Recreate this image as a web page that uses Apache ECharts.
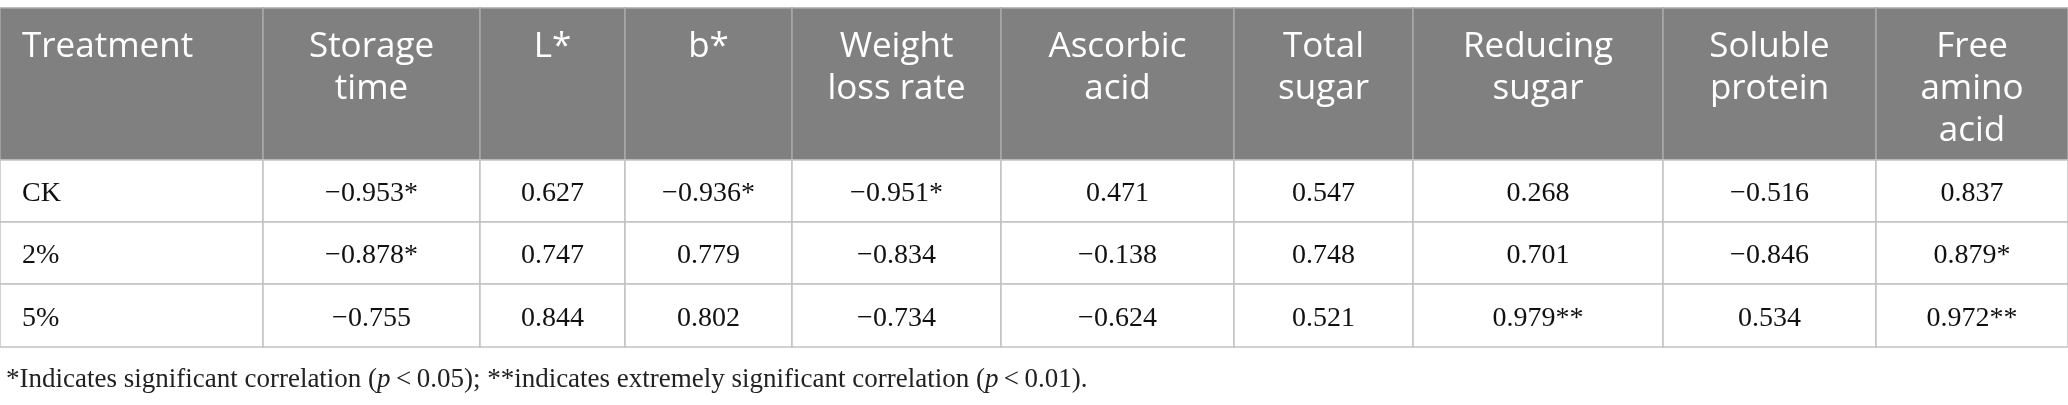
<!DOCTYPE html>
<html>
<head>
<meta charset="utf-8">
<script src="https://cdn.jsdelivr.net/npm/echarts@6/dist/echarts.min.js"></script>
<style>
  html, body { margin: 0; padding: 0; background: #fff; }
  #main { width: 2068px; height: 405px; }
</style>
</head>
<body>
<div id="main"></div>
<script>
var headers = ['Treatment', 'Storage\ntime', 'L*', 'b*', 'Weight\nloss rate', 'Ascorbic\nacid',
  'Total\nsugar', 'Reducing\nsugar', 'Soluble\nprotein', 'Free\namino\nacid'];
var treatments = ['CK', '2%', '5%'];

var ckValues = [-0.953, 0.627, -0.936, -0.951, 0.471, 0.547, 0.268, -0.516, 0.837];
var ckSig = ['*', '', '*', '*', '', '', '', '', ''];
var p2Values = [-0.878, 0.747, 0.779, -0.834, -0.138, 0.748, 0.701, -0.846, 0.879];
var p2Sig = ['*', '', '', '', '', '', '', '', '*'];
var p5Values = [-0.755, 0.844, 0.802, -0.734, -0.624, 0.521, 0.979, 0.534, 0.972];
var p5Sig = ['', '', '', '', '', '', '**', '', '**'];

// layout (pixels along the hidden axes)
var colWidths = [263, 217, 145, 167, 209, 233, 179, 250, 213, 192];
var rowHeights = [152, 62, 62, 63];
var tableTop = 8;

var colEdges = [0];
colWidths.forEach(function (w, i) { colEdges.push(colEdges[i] + w); });
var rowEdges = [tableTop];
rowHeights.forEach(function (h, i) { rowEdges.push(rowEdges[i] + h); });

function fmt(v, sig) {
  return (v < 0 ? '\u2212' : '') + Math.abs(v).toFixed(3) + sig;
}

var rows = [[ckValues, ckSig], [p2Values, p2Sig], [p5Values, p5Sig]];
var cells = [];
headers.forEach(function (h, c) { cells.push([c, 0, h]); });
rows.forEach(function (r, i) {
  cells.push([0, i + 1, treatments[i]]);
  r[0].forEach(function (v, j) { cells.push([j + 1, i + 1, fmt(v, r[1][j])]); });
});

var chart = echarts.init(document.getElementById('main'), null, { renderer: 'canvas' });

function renderCell(params, api) {
  var c = api.value(0), r = api.value(1);
  var text = cells[params.dataIndex][2];
  var p0 = api.coord([colEdges[c], rowEdges[r]]);
  var p1 = api.coord([colEdges[c + 1], rowEdges[r + 1]]);
  var isHead = r === 0;
  var left = c === 0;
  var tx = left ? p0[0] + 22 : (p0[0] + p1[0]) / 2;
  var ty = isHead ? p0[1] + 18 : (p0[1] + p1[1]) / 2 + 3;
  return {
    type: 'group',
    children: [{
      type: 'rect',
      shape: { x: p0[0], y: p0[1], width: p1[0] - p0[0], height: p1[1] - p0[1] },
      style: {
        fill: isHead ? '#808080' : '#ffffff',
        stroke: isHead ? '#a9a9a9' : '#c2c2c2',
        lineWidth: 1.5
      }
    }, {
      type: 'text',
      x: tx,
      y: ty,
      style: {
        text: text,
        fill: isHead ? '#ffffff' : '#111111',
        font: isHead ? '35px "Open Sans"' : '28px "Liberation Serif"',
        lineHeight: 42,
        align: left ? 'left' : 'center',
        verticalAlign: isHead ? 'top' : 'middle'
      }
    }]
  };
}

var option = {
  animation: false,
  title: {
    left: 1,
    top: 361,
    text: '{a|*Indicates significant correlation (}{i|p}{a|\u2009<\u20090.05); **indicates extremely significant correlation (}{i|p}{a|\u2009<\u20090.01).}',
    textStyle: {
      fontWeight: 'normal',
      rich: {
        a: { fontFamily: 'Liberation Serif', fontSize: 27, fontWeight: 'normal', color: '#222222' },
        i: { fontFamily: 'Liberation Serif', fontSize: 27, fontWeight: 'normal', fontStyle: 'italic', color: '#222222' }
      }
    }
  },
  grid: { left: 0, right: 0, top: 0, bottom: 0 },
  xAxis: { type: 'value', min: 0, max: 2068, show: false },
  yAxis: { type: 'value', min: 0, max: 405, inverse: true, show: false },
  series: [{
    type: 'custom',
    renderItem: renderCell,
    data: cells.map(function (d) { return [d[0], d[1]]; }),
    silent: true,
    clip: false
  }]
};

chart.setOption(option);
</script>
</body>
</html>
